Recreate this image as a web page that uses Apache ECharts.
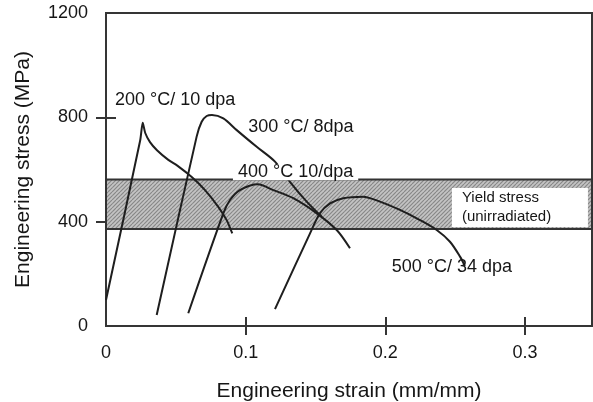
<!DOCTYPE html>
<html>
<head>
<meta charset="utf-8">
<script src="https://cdn.jsdelivr.net/npm/echarts@6/dist/echarts.min.js"></script>
<style>
html,body{margin:0;padding:0;background:#fff;}
#chart{width:593px;height:402px;}
</style>
</head>
<body>
<div id="chart"></div>
<script>
// ---- data ----
const xTicks = [0, 0.1, 0.2, 0.3];
const yTicks = [0, 400, 800, 1200];

const strain200 = [0, 0.0245, 0.0263, 0.0281, 0.0315, 0.0365, 0.0444, 0.0513, 0.0614, 0.0709, 0.0804, 0.0864, 0.0904];
const stress200 = [100, 712, 779, 740, 705, 674, 638, 614, 571, 521, 457, 406, 355];

const strain300 = [0.0363, 0.0649, 0.0685, 0.0721, 0.0759, 0.0840, 0.0936, 0.1079, 0.1210, 0.1317, 0.1437, 0.1547];
const stress300 = [42, 726, 783, 805, 809, 796, 751, 687, 630, 553, 477, 418];

const strain400 = [0.0589, 0.0840, 0.0888, 0.0959, 0.1088, 0.1198, 0.1341, 0.1509, 0.1652, 0.1747];
const stress400 = [49, 432, 483, 521, 543, 521, 490, 432, 368, 298];

const strain500 = [0.1210, 0.1461, 0.1532, 0.1604, 0.1699, 0.1840, 0.1962, 0.2105, 0.2248, 0.2368, 0.2463, 0.2535, 0.2570];
const stress500 = [65, 355, 432, 470, 490, 496, 477, 445, 406, 368, 323, 266, 230];

const yieldBand = [372, 562];   // unirradiated yield stress range (MPa)

const seriesNames = ['200 °C/ 10 dpa', '300 °C/ 8dpa', '400 °C 10/dpa', '500 °C/ 34 dpa'];
const yieldText = 'Yield stress\n(unirradiated)';

// ---- chart ----
const FONT = '"Liberation Sans", Arial, Helvetica, sans-serif';
const INK = '#161616';
const AXC = '#353535';

function zip(a, b) { return a.map((v, i) => [v, b[i]]); }

function hatch() {
  const c = document.createElement('canvas');
  c.width = 8; c.height = 8;
  const g = c.getContext('2d');
  g.fillStyle = '#c4c4c4';
  g.fillRect(0, 0, 8, 8);
  g.strokeStyle = '#888888';
  g.lineWidth = 1.2;
  for (let k = -8; k <= 16; k += 4) {
    g.beginPath(); g.moveTo(k, 8); g.lineTo(k + 8, 0); g.stroke();
  }
  return c;
}

const XMAX = 0.348;
const chart = echarts.init(document.getElementById('chart'), null, {renderer: 'canvas'});

const curveStyle = {color: '#1e1e1e', width: 2};
function curve(name, xs, ys, smooth) {
  return {
    type: 'line', name: name, data: zip(xs, ys), showSymbol: false, symbol: 'none',
    smooth: smooth, lineStyle: curveStyle, z: 3, silent: true
  };
}

const labelBase = {
  show: true, position: [0, 0], align: 'left', verticalAlign: 'middle',
  fontFamily: FONT, fontSize: 18, color: INK
};

const option = {
  animation: false,
  backgroundColor: '#fff',
  grid: {left: 106, top: 13, width: 486, height: 313, containLabel: false, outerBoundsMode: 'none',
    show: true, borderColor: AXC, borderWidth: 2, backgroundColor: 'transparent'},
  xAxis: [{
    type: 'value', min: 0, max: XMAX, interval: 0.1, position: 'bottom',
    name: 'Engineering strain (mm/mm)', nameLocation: 'middle', nameGap: 55,
    nameTextStyle: {fontFamily: FONT, fontSize: 21, color: INK},
    axisLine: {show: true, onZero: false, lineStyle: {color: AXC, width: 2}},
    axisTick: {show: true, inside: false, length: 9, customValues: xTicks.slice(1), lineStyle: {color: AXC, width: 2}},
    axisLabel: {show: true, customValues: xTicks, margin: 18, fontFamily: FONT, fontSize: 18, color: INK,
      formatter: v => String(v)},
    splitLine: {show: false}
  }, {
    type: 'value', min: 0, max: XMAX, interval: 0.1, position: 'bottom',
    axisLine: {show: false},
    axisTick: {show: true, inside: true, length: 9, customValues: xTicks.slice(1), lineStyle: {color: AXC, width: 2}},
    axisLabel: {show: false}, splitLine: {show: false}
  }],
  yAxis: [{
    type: 'value', min: 0, max: 1200, interval: 400, position: 'left',
    name: 'Engineering stress (MPa)', nameLocation: 'middle', nameGap: 72,
    nameTextStyle: {fontFamily: FONT, fontSize: 21, color: INK},
    axisLine: {show: true, onZero: false, lineStyle: {color: AXC, width: 2}},
    axisTick: {show: true, inside: false, length: 10, customValues: yTicks.slice(1, 3), lineStyle: {color: AXC, width: 2}},
    axisLabel: {show: true, customValues: yTicks, margin: 18, fontFamily: FONT, fontSize: 18, color: INK,
      formatter: v => String(v)},
    splitLine: {show: false}
  }, {
    type: 'value', min: 0, max: 1200, interval: 400, position: 'left',
    axisLine: {show: false},
    axisTick: {show: true, inside: true, length: 10, customValues: yTicks.slice(1, 3), lineStyle: {color: AXC, width: 2}},
    axisLabel: {show: false}, splitLine: {show: false}
  }],
  series: [
    {
      type: 'line', name: 'yield', data: [], z: 1, silent: true,
      markArea: {
        silent: true,
        itemStyle: {color: {image: hatch(), repeat: 'repeat'}, borderColor: '#333', borderWidth: 2, opacity: 1},
        data: [[{coord: [0, yieldBand[0]]}, {coord: [XMAX, yieldBand[1]]}]]
      }
    },
    curve(seriesNames[0], strain200, stress200, 0.25),
    curve(seriesNames[1], strain300, stress300, 0.3),
    curve(seriesNames[2], strain400, stress400, 0.3),
    curve(seriesNames[3], strain500, stress500, 0.3),
    {
      type: 'scatter', name: 'labels', z: 10, silent: true, symbolSize: 0,
      itemStyle: {color: '#fff', opacity: 1},
      data: [
        {value: [0.0065, 866], label: Object.assign({}, labelBase, {formatter: seriesNames[0]})},
        {value: [0.1019, 764], label: Object.assign({}, labelBase, {formatter: seriesNames[1]})},
        {value: [0.0909, 589], label: Object.assign({}, labelBase, {formatter: seriesNames[2],
          backgroundColor: '#fff', padding: [0, 5, 0, 5], lineHeight: 16})},
        {value: [0.2046, 227], label: Object.assign({}, labelBase, {formatter: seriesNames[3]})},
        {value: [0.2477, 529], label: Object.assign({}, labelBase, {formatter: yieldText,
          verticalAlign: 'top', fontSize: 15, lineHeight: 18.5, width: 116,
          backgroundColor: '#fff', padding: [1, 10, 1, 10]})}
      ]
    }
  ]
};
chart.setOption(option);
</script>
</body>
</html>
